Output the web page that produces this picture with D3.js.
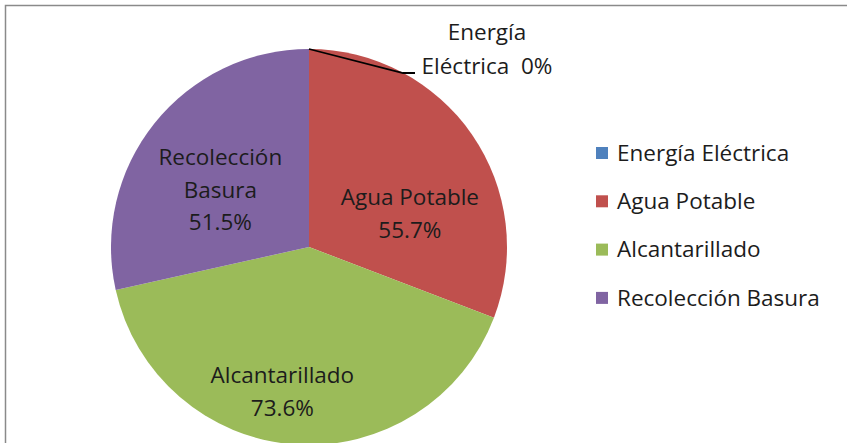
<!DOCTYPE html>
<html>
<head>
<meta charset="utf-8">
<script src="https://cdn.jsdelivr.net/npm/d3@7"></script>
<style>
  body { margin: 0; background: #fff; }
  svg text { font-family: "Open Sans", sans-serif; fill: #1c1c1c; }
</style>
</head>
<body>
<script>
const categories = ["Energía Eléctrica", "Agua Potable", "Alcantarillado", "Recolección Basura"]
const values = [0, 55.7, 73.6, 51.5]
const valueLabels = ["0%", "55.7%", "73.6%", "51.5%"]
const colors = ["#4F81BD", "#C0504D", "#9BBB59", "#8064A2"]

const width = 847, height = 443
const cx = 309, cy = 247, radius = 198
const fontSize = "22.5px"

const svg = d3.select("body").append("svg")
    .attr("width", width)
    .attr("height", height)

// chart frame
svg.append("rect")
    .attr("x", 5.5).attr("y", 5.5)
    .attr("width", width + 10).attr("height", height + 10)
    .style("fill", "#fff")
    .style("stroke", "#8a8a8a")
    .style("stroke-width", "1.5px")

const data = categories.map(function (c, i) { return { name: c, value: values[i], label: valueLabels[i], color: colors[i] } })

const pie = d3.pie().sort(null).value(function (d) { return d.value })
const arcs = pie(data)

const arc = d3.arc().innerRadius(0).outerRadius(radius)
const labelArc = d3.arc().innerRadius(radius * 0.6).outerRadius(radius * 0.6)

const g = svg.append("g").attr("transform", "translate(" + cx + "," + cy + ")")

g.selectAll("path.slice")
    .data(arcs)
    .enter().append("path")
    .attr("class", "slice")
    .attr("d", arc)
    .style("fill", function (d) { return d.data.color })

// label nudges relative to centroid (layout only)
const nudge = {
    "Agua Potable": [3, 34],
    "Alcantarillado": [-18, 26],
    "Recolección Basura": [4, 17]
}

const lineH = 32.5
arcs.forEach(function (d) {
    if (d.data.value === 0) return
    const c = labelArc.centroid(d)
    const n = nudge[d.data.name] || [0, 0]
    const lines = d.data.name === "Recolección Basura" ? ["Recolección", "Basura", d.data.label] : [d.data.name, d.data.label]
    const x = c[0] + n[0]
    const y0 = c[1] + n[1] - (lines.length - 1) * lineH / 2
    const t = g.append("text")
        .attr("text-anchor", "middle")
        .style("font-size", fontSize)
    lines.forEach(function (l, i) {
        t.append("tspan").attr("x", x).attr("y", y0 + i * lineH).attr("dy", "0.35em").text(l)
    })
})

// zero slice label with leader line
const zero = arcs[0]
const edge = d3.arc().innerRadius(radius).outerRadius(radius).centroid(zero)
const elbow = [edge[0] + 94, edge[1] + 24]
g.append("path")
    .attr("d", d3.line()([edge, elbow, [elbow[0] + 12, elbow[1]]]))
    .style("fill", "none")
    .style("stroke", "#000")
    .style("stroke-width", "1.8px")
const zt = g.append("text").attr("text-anchor", "middle").style("font-size", fontSize)
zt.append("tspan").attr("x", elbow[0] + 84).attr("y", elbow[1] - 33).text("Energía")
zt.append("tspan").attr("x", elbow[0] + 84).attr("y", elbow[1] + 1).text("Eléctrica  " + zero.data.label)
    .style("white-space", "pre")

// legend
const legend = svg.append("g").attr("transform", "translate(596,153)")
const item = legend.selectAll("g")
    .data(data)
    .enter().append("g")
    .attr("transform", function (d, i) { return "translate(0," + i * 48.3 + ")" })
item.append("rect")
    .attr("x", 0).attr("y", -6)
    .attr("width", 12).attr("height", 12)
    .style("fill", function (d) { return d.color })
item.append("text")
    .attr("x", 21)
    .attr("dy", "0.35em")
    .style("font-size", fontSize)
    .text(function (d) { return d.name })
</script>
</body>
</html>
